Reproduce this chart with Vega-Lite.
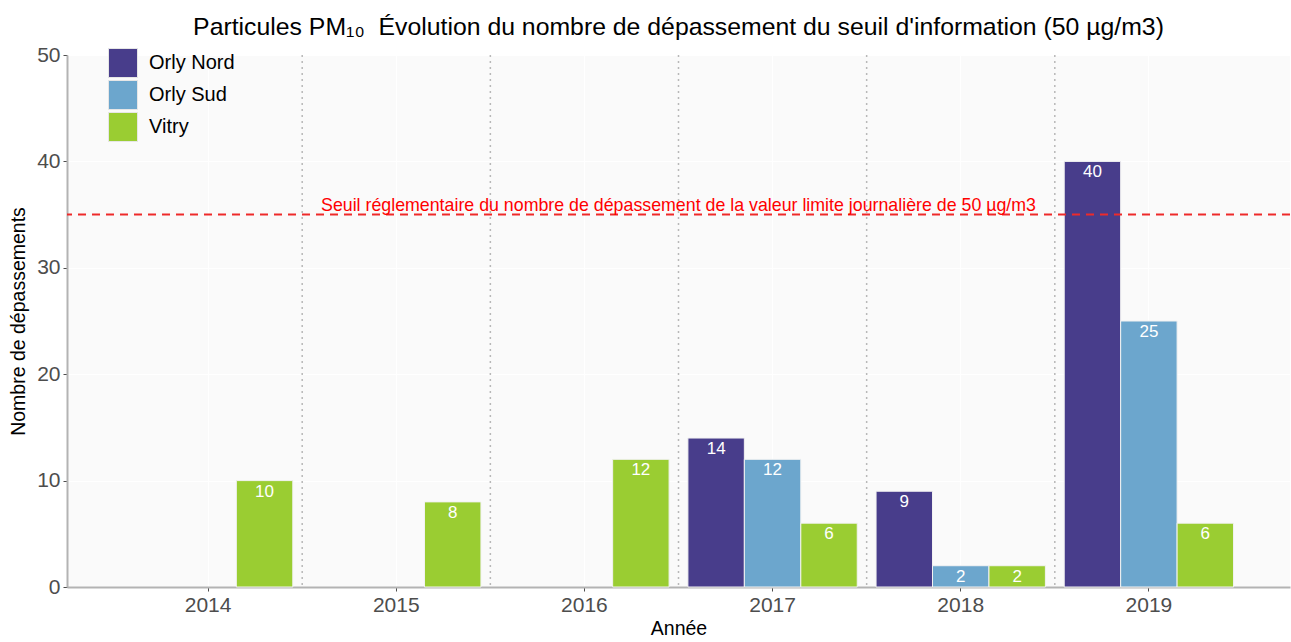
{
  "$schema": "https://vega.github.io/schema/vega-lite/v6.json",
  "width": 1223,
  "height": 532,
  "autosize": {"type": "none"},
  "padding": {"left": 67, "top": 55, "right": 1, "bottom": 55},
  "background": "white",
  "config": {
    "font": "Liberation Sans",
    "view": {"fill": "#fafafa", "stroke": null},
    "axis": {
      "labelFont": "Liberation Sans",
      "titleFont": "Liberation Sans",
      "labelColor": "#4d4d4d",
      "labelFontSize": 21,
      "titleFontSize": 19.5,
      "titleFontWeight": "normal",
      "titleColor": "black",
      "domainColor": "#b3b3b3",
      "domainWidth": 2,
      "tickColor": "#4d4d4d",
      "tickSize": 4,
      "gridColor": "white",
      "gridWidth": 1
    }
  },
  "title": {
    "text": "Particules PM₁₀\u00a0\u00a0Évolution du nombre de dépassement du seuil d'information (50 µg/m3)",
    "fontSize": 24.8,
    "fontWeight": "normal",
    "font": "Liberation Sans",
    "color": "black",
    "anchor": "middle",
    "offset": 4
  },
  "datasets": {
    "bars": [
      {"annee": "2014", "station": "Vitry", "n": 10},
      {"annee": "2015", "station": "Vitry", "n": 8},
      {"annee": "2016", "station": "Vitry", "n": 12},
      {"annee": "2017", "station": "Orly Nord", "n": 14},
      {"annee": "2017", "station": "Orly Sud", "n": 12},
      {"annee": "2017", "station": "Vitry", "n": 6},
      {"annee": "2018", "station": "Orly Nord", "n": 9},
      {"annee": "2018", "station": "Orly Sud", "n": 2},
      {"annee": "2018", "station": "Vitry", "n": 2},
      {"annee": "2019", "station": "Orly Nord", "n": 40},
      {"annee": "2019", "station": "Orly Sud", "n": 25},
      {"annee": "2019", "station": "Vitry", "n": 6}
    ],
    "separateurs": [
      {"b": 2014.5}, {"b": 2015.5}, {"b": 2016.5}, {"b": 2017.5}, {"b": 2018.5}
    ],
    "seuil": [
      {"pos": 2016.5, "valeur": 35, "texte": "Seuil réglementaire du nombre de dépassement de la valeur limite journalière de 50 µg/m3"}
    ]
  },
  "resolve": {"scale": {"x": "independent"}, "axis": {"x": "independent"}},
  "layer": [
    {
      "data": {"name": "separateurs"},
      "mark": {"type": "rule", "color": "#b8b8b8", "strokeWidth": 1.5, "strokeDash": [2, 4]},
      "encoding": {
        "x": {"field": "b", "type": "quantitative", "scale": {"domain": [2013.25, 2019.75], "nice": false, "zero": false}, "axis": null}
      }
    },
    {
      "data": {"name": "bars"},
      "mark": {"type": "bar", "stroke": "#f2f2f2", "strokeWidth": 1},
      "encoding": {
        "x": {
          "field": "annee", "type": "nominal",
          "scale": {"paddingInner": 0.1, "paddingOuter": 0.3},
          "axis": {"title": "Année", "labelAngle": 0, "labelPadding": 3, "titlePadding": 4, "grid": true}
        },
        "xOffset": {"field": "station", "type": "nominal", "scale": {"domain": ["Orly Nord", "Orly Sud", "Vitry"], "paddingInner": 0, "paddingOuter": 0}},
        "y": {
          "field": "n", "type": "quantitative",
          "scale": {"domain": [0, 50], "nice": false},
          "axis": {"title": "Nombre de dépassements", "values": [0, 10, 20, 30, 40, 50], "labelPadding": 3, "titlePadding": 8, "grid": true}
        },
        "color": {
          "field": "station", "type": "nominal",
          "scale": {"domain": ["Orly Nord", "Orly Sud", "Vitry"], "range": ["#483d8b", "#6ca6cd", "#9acd32"]},
          "legend": {
            "title": null,
            "orient": "none",
            "legendX": 41,
            "legendY": -7,
            "padding": 0,
            "symbolType": "square",
            "symbolSize": 841,
            "symbolOpacity": 1,
            "symbolStrokeColor": "#e6e6e6",
            "symbolStrokeWidth": 1,
            "labelFontSize": 20,
            "labelFont": "Liberation Sans",
            "labelColor": "black",
            "labelOffset": 11,
            "rowPadding": -3
          }
        }
      }
    },
    {
      "data": {"name": "bars"},
      "mark": {"type": "text", "color": "white", "fontSize": 17, "baseline": "middle", "dy": 11},
      "encoding": {
        "x": {"field": "annee", "type": "nominal", "scale": {"paddingInner": 0.1, "paddingOuter": 0.3}, "axis": null},
        "xOffset": {"field": "station", "type": "nominal", "scale": {"domain": ["Orly Nord", "Orly Sud", "Vitry"], "paddingInner": 0, "paddingOuter": 0}},
        "y": {"field": "n", "type": "quantitative", "scale": {"domain": [0, 50], "nice": false}},
        "text": {"field": "n", "type": "quantitative"}
      }
    },
    {
      "data": {"name": "seuil"},
      "mark": {"type": "rule", "color": "#ee2a2a", "strokeWidth": 2, "strokeDash": [8, 6]},
      "encoding": {
        "y": {"field": "valeur", "type": "quantitative", "scale": {"domain": [0, 50], "nice": false}}
      }
    },
    {
      "data": {"name": "seuil"},
      "mark": {"type": "text", "color": "#ff0000", "fontSize": 17.8, "baseline": "alphabetic", "align": "center", "dy": -4},
      "encoding": {
        "x": {"field": "pos", "type": "quantitative", "scale": {"domain": [2013.25, 2019.75], "nice": false, "zero": false}, "axis": null},
        "y": {"field": "valeur", "type": "quantitative", "scale": {"domain": [0, 50], "nice": false}},
        "text": {"field": "texte", "type": "nominal"}
      }
    }
  ]
}
